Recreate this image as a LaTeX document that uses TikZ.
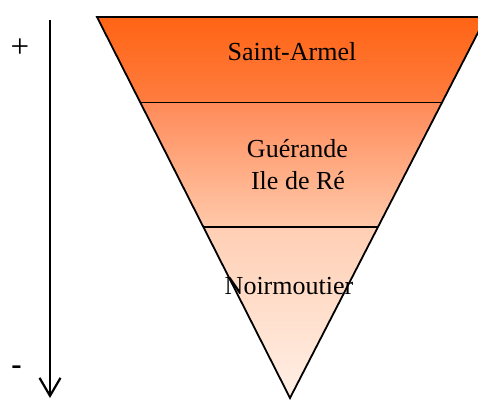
\documentclass[tikz,border=0pt]{standalone}
\usepackage{fontspec}
\setmainfont{Liberation Serif}
\usetikzlibrary{arrows.meta}
\definecolor{bandAtop}{HTML}{FF6414}
\definecolor{bandAbot}{HTML}{FF7D40}
\definecolor{bandBtop}{HTML}{FF8A58}
\definecolor{bandBbot}{HTML}{FFC9AA}
\definecolor{bandCtop}{HTML}{FFCFB4}
\definecolor{bandCbot}{HTML}{FFEFE5}
\tikzset{
  edge/.style={draw=black, line width=1.8pt, line join=miter},
  txt/.style={font=\fontsize{26}{32}\selectfont, inner sep=0pt, align=center, anchor=base},
  sign/.style={font=\fontsize{33}{36}\selectfont, inner sep=0pt, anchor=base},
  scalearrow/.style={line width=2.2pt, -{Straight Barb[length=18pt, width=21pt, line width=2.2pt]}}
}
\begin{document}
\begin{tikzpicture}[x=1pt, y=-1pt]
\useasboundingbox (0,0) rectangle (478,399);
\clip (0,0) rectangle (478,399);
% corners of the funnel
\coordinate (TL) at (97,17);
\coordinate (TR) at (486,17);
\coordinate (AP) at (290,398);
\coordinate (L1) at (140.3,102.5);
\coordinate (R1) at (442,102.5);
\coordinate (L2) at (203.4,227);
\coordinate (R2) at (378,227);
% bands
\shade[top color=bandAtop, bottom color=bandAbot] (TL) -- (TR) -- (R1) -- (L1) -- cycle;
\shade[top color=bandBtop, bottom color=bandBbot] (L1) -- (R1) -- (R2) -- (L2) -- cycle;
\shade[top color=bandCtop, bottom color=bandCbot] (L2) -- (R2) -- (AP) -- cycle;
% outlines
\draw[edge] (TL) -- (TR) -- (AP) -- cycle;
\draw[edge] (L1) -- (R1);
\draw[edge] (L2) -- (R2);
% labels
\node[txt] (sa) at (292,60) {Saint-Armel};
\node[txt] (gu) at (297.5,157) {Guérande};
\node[txt] (ir) at (298,189) {Ile de Ré};
\node[txt] (no) at (289,294) {Noirmoutier};
% scale arrow
\coordinate (atop) at (50,20);
\coordinate (abot) at (50,398);
\draw[scalearrow] (atop) -- (abot);
\node[sign] (plus) at (20,57.3) {+};
\node[sign, font=\fontsize{31}{36}\selectfont\bfseries] (minus) at (16.5,374) {-};
\end{tikzpicture}
\end{document}
